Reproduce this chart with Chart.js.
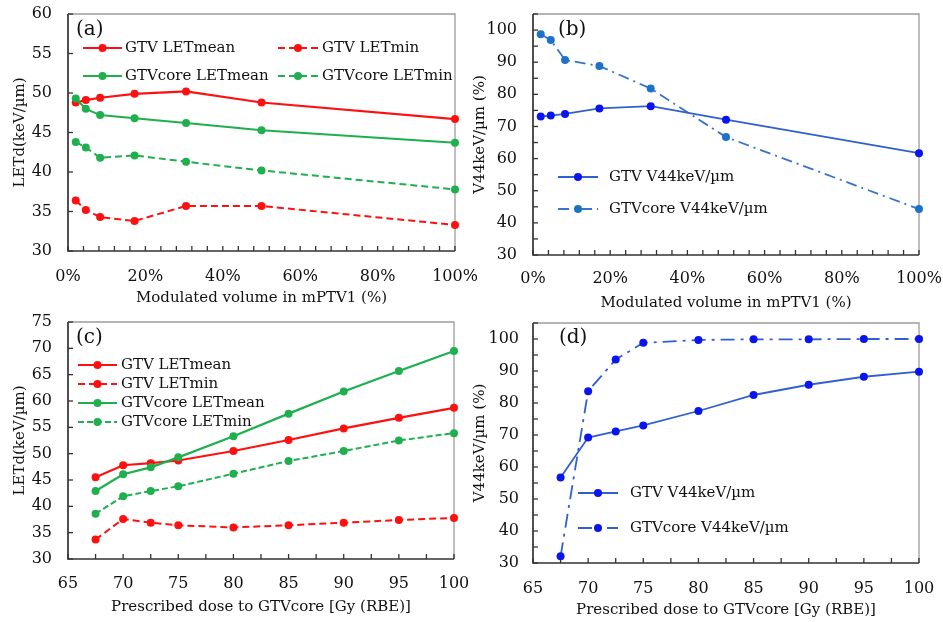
<!DOCTYPE html>
<html><head><meta charset="utf-8">
<script src="https://cdn.jsdelivr.net/npm/chart.js@4/dist/chart.umd.min.js"></script>
<style>
html,body{margin:0;padding:0;background:#fff;}
#wrap{position:relative;width:943px;height:622px;overflow:hidden;background:#fff;}
canvas{position:absolute;}
</style></head><body>
<div id="wrap">
<canvas id="ca" width="490" height="312" style="left:0;top:0"></canvas>
<canvas id="cb" width="473" height="315" style="left:470px;top:0"></canvas>
<canvas id="cc" width="490" height="317" style="left:0;top:305px"></canvas>
<canvas id="cd" width="473" height="317" style="left:470px;top:305px"></canvas>
</div>
<script>
// ---------- DATA ----------
const volX = [2.0, 4.6, 8.3, 17.2, 30.5, 50, 100];           // modulated volume (%)
const aGtvMean  = [48.8, 49.1, 49.4, 49.9, 50.2, 48.8, 46.7];
const aGtvMin   = [36.4, 35.2, 34.3, 33.8, 35.7, 35.7, 33.3];
const aCoreMean = [49.3, 48.0, 47.2, 46.8, 46.2, 45.3, 43.7];
const aCoreMin  = [43.8, 43.1, 41.8, 42.1, 41.3, 40.2, 37.8];

const bGtvV  = [73.1, 73.4, 73.9, 75.6, 76.3, 72.1, 61.7];
const bCoreV = [98.7, 96.9, 90.7, 88.8, 81.8, 66.7, 44.3];

const doseX = [67.5, 70, 72.5, 75, 80, 85, 90, 95, 100];     // prescribed dose (Gy RBE)
const cGtvMean  = [45.5, 47.8, 48.2, 48.7, 50.5, 52.6, 54.8, 56.8, 58.7];
const cGtvMin   = [33.7, 37.6, 36.9, 36.4, 36.0, 36.4, 36.9, 37.4, 37.8];
const cCoreMean = [42.9, 46.1, 47.4, 49.3, 53.3, 57.6, 61.8, 65.7, 69.5];
const cCoreMin  = [38.6, 41.9, 42.9, 43.8, 46.2, 48.6, 50.5, 52.5, 53.9];

const dGtvV  = [56.7, 69.2, 71.1, 73.0, 77.5, 82.5, 85.7, 88.2, 89.8];
const dCoreV = [32.1, 83.7, 93.6, 98.8, 99.7, 99.9, 99.9, 100, 100];

const panelLabels = ['(a)', '(b)', '(c)', '(d)'];
const letLabels = ['GTV LETmean', 'GTV LETmin', 'GTVcore LETmean', 'GTVcore LETmin'];
const vLabels = ['GTV V44keV/\u00b5m', 'GTVcore V44keV/\u00b5m'];
const xTitleVol = 'Modulated volume in mPTV1 (%)';
const xTitleDose = 'Prescribed dose to GTVcore [Gy (RBE)]';
const yTitleLet = 'LETd(keV/\u00b5m)';
const yTitleV = 'V44keV/\u00b5m (%)';

// ---------- STYLE ----------
const FONT = '"DejaVu Serif", serif';
const TXT = '#111111';
const RED = '#FF1010', GREEN = '#1FAF4E';
const BLUE_L = '#3060D0', BLUE_M = '#0A14EE', BLUE2_L = '#3A72CC', BLUE2_M = '#1C72C8';

function pts(xs, ys) { return xs.map((x, i) => ({x: x, y: ys[i]})); }
function isMult(v, m) { const r = v / m; return Math.abs(r - Math.round(r)) < 1e-6; }

function ds(label, xs, ys, color, marker, dash, width, order) {
  return {label, data: pts(xs, ys), borderColor: color, backgroundColor: marker,
    pointBackgroundColor: marker, pointBorderColor: marker, pointRadius: 4, pointBorderWidth: 0,
    pointHoverRadius: 4, borderWidth: width, borderDash: dash, tension: 0, fill: false, clip: false,
    order: order || 0};
}

function xScale(min, max, step, every, fmt, title, H, tickPad, titlePad) {
  return {type: 'linear', min, max,
    ticks: {stepSize: step, autoSkip: false, maxRotation: 0, minRotation: 0, padding: tickPad, color: TXT,
      font: {family: FONT, size: 16}, callback: v => isMult(v, every) ? fmt(v) : ''},
    grid: {display: false, drawTicks: false}, border: {display: false},
    title: {display: true, text: title, color: TXT, font: {family: FONT, size: 15}, padding: titlePad},
    afterFit: s => { s.height = H; s.paddingLeft = 0; s.paddingRight = 0; }
  };
}
function yScale(min, max, step, every, top, title, W, tickPad, titlePad) {
  return {type: 'linear', min, max,
    ticks: {stepSize: step, autoSkip: false, padding: tickPad, color: TXT,
      font: {family: FONT, size: 16}, callback: v => (isMult(v, every) && v <= top) ? String(v) : ''},
    grid: {display: false, drawTicks: false}, border: {display: false},
    title: {display: true, text: title, color: TXT, font: {family: FONT, size: 15}, padding: titlePad},
    afterFit: s => { s.width = W; s.paddingTop = 0; s.paddingBottom = 0; }
  };
}

const framePlugin = {
  id: 'frame',
  beforeDatasetsDraw(chart) {
    const {ctx, chartArea: a, scales} = chart;
    ctx.save();
    ctx.strokeStyle = '#9c9c9c'; ctx.lineWidth = 1.3;
    ctx.beginPath(); ctx.moveTo(a.left, a.top); ctx.lineTo(a.right, a.top); ctx.lineTo(a.right, a.bottom); ctx.stroke();
    ctx.strokeStyle = '#333333'; ctx.lineWidth = 1.7;
    ctx.beginPath(); ctx.moveTo(a.left, a.top); ctx.lineTo(a.left, a.bottom); ctx.lineTo(a.right, a.bottom); ctx.stroke();
    ctx.lineWidth = 1.3;
    scales.x.ticks.forEach(t => { const px = scales.x.getPixelForValue(t.value);
      ctx.beginPath(); ctx.moveTo(px, a.bottom); ctx.lineTo(px, a.bottom - 5); ctx.stroke(); });
    scales.y.ticks.forEach(t => { const py = scales.y.getPixelForValue(t.value);
      ctx.beginPath(); ctx.moveTo(a.left, py); ctx.lineTo(a.left + 5, py); ctx.stroke(); });
    ctx.restore();
  }
};

function legendPlugin(panel, items) {
  return {
    id: 'inLegend',
    afterDraw(chart) {
      const ctx = chart.ctx;
      ctx.save();
      ctx.textBaseline = 'middle'; ctx.textAlign = 'left';
      ctx.fillStyle = TXT; ctx.font = '20px ' + FONT;
      ctx.fillText(panel.text, panel.x, panel.y);
      items.forEach(it => {
        const d = chart.data.datasets[it.ds];
        ctx.strokeStyle = d.borderColor; ctx.lineWidth = d.borderWidth; ctx.setLineDash(d.borderDash || []);
        ctx.beginPath(); ctx.moveTo(it.x1, it.y); ctx.lineTo(it.x2, it.y); ctx.stroke();
        ctx.setLineDash([]);
        ctx.fillStyle = d.pointBackgroundColor;
        ctx.beginPath(); ctx.arc((it.x1 + it.x2) / 2, it.y, d.pointRadius, 0, Math.PI * 2); ctx.fill();
        ctx.fillStyle = TXT; ctx.font = '15px ' + FONT;
        ctx.fillText(d.label, it.tx, it.y);
      });
      ctx.restore();
    }
  };
}

function make(id, datasets, scales, padding, plugins) {
  return new Chart(document.getElementById(id), {
    type: 'line',
    data: {datasets},
    options: {responsive: false, animation: false, devicePixelRatio: 1,
      layout: {padding},
      plugins: {legend: {display: false}, tooltip: {enabled: false}},
      scales},
    plugins: [framePlugin].concat(plugins)
  });
}

const pctFmt = v => v + '%';
const numFmt = v => String(v);

// (a)
make('ca', [
  ds(letLabels[0], volX, aGtvMean, RED, RED, [], 2.2, 2),
  ds(letLabels[1], volX, aGtvMin, RED, RED, [7, 4], 2, 2),
  ds(letLabels[2], volX, aCoreMean, GREEN, GREEN, [], 2, 1),
  ds(letLabels[3], volX, aCoreMin, GREEN, GREEN, [7, 4], 2, 1)
], {
  x: xScale(0, 100, 4, 20, pctFmt, xTitleVol, 61, 16, 5),
  y: yScale(30, 60, 5, 5, 60, yTitleLet, 68, 16, 11)
}, {left: 0, top: 14, right: 35, bottom: 0}, [legendPlugin({text: panelLabels[0], x: 76, y: 30}, [
  {ds: 0, x1: 83, x2: 122, y: 48, tx: 125}, {ds: 1, x1: 278, x2: 318, y: 48, tx: 322},
  {ds: 2, x1: 83, x2: 122, y: 76, tx: 125}, {ds: 3, x1: 278, x2: 318, y: 76, tx: 322}])]);

// (b)
make('cb', [
  ds(vLabels[0], volX, bGtvV, BLUE_L, BLUE_M, [], 1.8),
  ds(vLabels[1], volX, bCoreV, BLUE2_L, BLUE2_M, [11, 5, 2, 5], 1.8)
], {
  x: xScale(0, 100, 4, 20, pctFmt, xTitleVol, 60, 14, 3),
  y: yScale(30, 105, 5, 10, 100, yTitleV, 63, 16, 1)
}, {left: 0, top: 14, right: 24, bottom: 0}, [legendPlugin({text: panelLabels[1], x: 88, y: 30}, [
  {ds: 0, x1: 88, x2: 128, y: 177, tx: 139}, {ds: 1, x1: 88, x2: 128, y: 209, tx: 139}])]);

// (c)
make('cc', [
  ds(letLabels[0], doseX, cGtvMean, RED, RED, [], 2.2, 2),
  ds(letLabels[1], doseX, cGtvMin, RED, RED, [7, 4], 2, 2),
  ds(letLabels[2], doseX, cCoreMean, GREEN, GREEN, [], 2.2, 1),
  ds(letLabels[3], doseX, cCoreMin, GREEN, GREEN, [6, 3], 2, 1)
], {
  x: xScale(65, 100, 2.5, 5, numFmt, xTitleDose, 63, 15, 6),
  y: yScale(30, 75, 5, 5, 75, yTitleLet, 68, 16, 11)
}, {left: 0, top: 17, right: 36, bottom: 0}, [legendPlugin({text: panelLabels[2], x: 76, y: 33}, [
  {ds: 0, x1: 78, x2: 117, y: 60, tx: 121}, {ds: 1, x1: 78, x2: 117, y: 79, tx: 121},
  {ds: 2, x1: 78, x2: 117, y: 98, tx: 121}, {ds: 3, x1: 78, x2: 117, y: 117, tx: 121}])]);

// (d)
make('cd', [
  ds(vLabels[0], doseX, dGtvV, BLUE_L, BLUE_M, [], 1.8),
  ds(vLabels[1], doseX, dCoreV, BLUE_L, BLUE_M, [14, 6, 3, 6], 1.8)
], {
  x: xScale(65, 100, 2.5, 5, numFmt, xTitleDose, 59, 16, 3),
  y: yScale(30, 105, 5, 10, 100, yTitleV, 63, 14, 1)
}, {left: 0, top: 18, right: 24, bottom: 0}, [legendPlugin({text: panelLabels[3], x: 89, y: 33}, [
  {ds: 0, x1: 108, x2: 148, y: 188, tx: 160}, {ds: 1, x1: 108, x2: 148, y: 223, tx: 160}])]);
</script>
</body></html>
